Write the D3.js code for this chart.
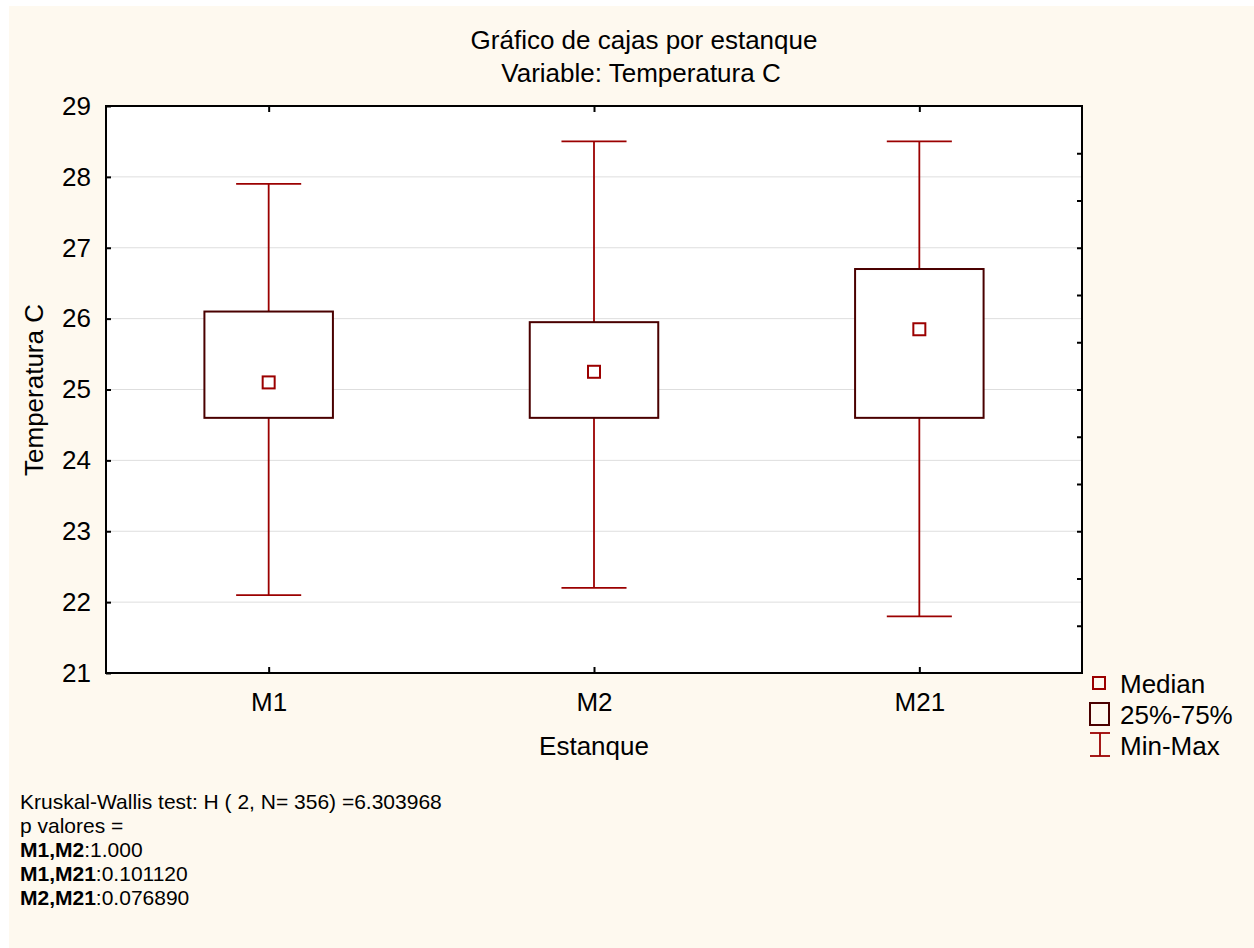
<!DOCTYPE html>
<html>
<head>
<meta charset="utf-8">
<script src="https://cdn.jsdelivr.net/npm/d3@7"></script>
<style>
  body { margin: 0; background: #ffffff; }
  svg { display: block; font-family: Arial, "Liberation Sans", sans-serif; }
</style>
</head>
<body>
<div id="chart"></div>
<script>
// canvas size
const FRAME_WIDTH = 1254;
const FRAME_HEIGHT = 948;
const MARGINS = {left: 106, right: 172, top: 106, bottom: 275};

const VIS_WIDTH = FRAME_WIDTH - MARGINS.left - MARGINS.right;
const VIS_HEIGHT = FRAME_HEIGHT - MARGINS.top - MARGINS.bottom;

const FONT = "Arial, 'Liberation Sans', sans-serif";
const BIG = 26;

// data
const categories = ["M1", "M2", "M21"];
const minValues = [22.1, 22.2, 21.8];
const q1Values = [24.6, 24.6, 24.6];
const medianValues = [25.1, 25.25, 25.85];
const q3Values = [26.1, 25.95, 26.7];
const maxValues = [27.9, 28.5, 28.5];
const yTicks = [21, 22, 23, 24, 25, 26, 27, 28, 29];
const legendLabels = ["Median", "25%-75%", "Min-Max"];
const noteLines = [
  [{t: "Kruskal-Wallis test: H ( 2, N= 356) =6.303968", b: false}],
  [{t: "p valores =", b: false}],
  [{t: "M1,M2", b: true}, {t: ":1.000", b: false}],
  [{t: "M1,M21", b: true}, {t: ":0.101120", b: false}],
  [{t: "M2,M21", b: true}, {t: ":0.076890", b: false}]
];

const boxes = categories.map((c, i) => ({
  cat: c, min: minValues[i], q1: q1Values[i], med: medianValues[i], q3: q3Values[i], max: maxValues[i]
}));

const WHISKER = "#9b0000";
const BOX = "#4a0000";

const svg = d3.select("#chart")
  .append("svg")
    .attr("width", FRAME_WIDTH)
    .attr("height", FRAME_HEIGHT);

// cream background
svg.append("rect")
  .attr("x", 9).attr("y", 6)
  .attr("width", FRAME_WIDTH - 9).attr("height", FRAME_HEIGHT - 6)
  .attr("fill", "#fef9ef");

// titles
svg.append("text")
  .attr("x", 644).attr("y", 49)
  .attr("text-anchor", "middle")
  .attr("font-size", BIG)
  .text("Gráfico de cajas por estanque");
svg.append("text")
  .attr("x", 641).attr("y", 82)
  .attr("text-anchor", "middle")
  .attr("font-size", BIG)
  .text("Variable: Temperatura C");

const g = svg.append("g")
  .attr("transform", `translate(${MARGINS.left},${MARGINS.top})`);

// plot area
g.append("rect")
  .attr("width", VIS_WIDTH).attr("height", VIS_HEIGHT)
  .attr("fill", "#ffffff");

const x = d3.scalePoint()
  .domain(categories)
  .range([0, VIS_WIDTH])
  .padding(0.5);

const y = d3.scaleLinear()
  .domain([21, 29])
  .range([VIS_HEIGHT, 0]);

const band = x.step();
const boxW = band * 0.395;
const capW = band * 0.2;

// gridlines
g.append("g")
  .selectAll("line")
  .data(yTicks.slice(1, -1))
  .enter()
  .append("line")
    .attr("x1", 0).attr("x2", VIS_WIDTH)
    .attr("y1", d => y(d)).attr("y2", d => y(d))
    .attr("stroke", "#dedede")
    .attr("stroke-width", 1);

// left axis
const yAxis = g.append("g")
  .call(d3.axisLeft(y).tickValues(yTicks).tickSize(5).tickPadding(10).tickFormat(d3.format("d")));
yAxis.select(".domain").remove();
yAxis.selectAll("line").attr("stroke", "#000").attr("stroke-width", 2).attr("transform", "translate(5,0)");
yAxis.selectAll("text").attr("font-size", BIG).attr("fill", "#000").attr("font-family", FONT);

// right axis, minor ticks
const rightTicks = d3.range(1, 12).map(i => 21 + i * 8 / 12);
g.append("g")
  .attr("transform", `translate(${VIS_WIDTH},0)`)
  .call(d3.axisLeft(y).tickValues(rightTicks).tickSize(5).tickFormat(""))
  .call(a => a.select(".domain").remove())
  .selectAll("line").attr("stroke", "#000").attr("stroke-width", 2);

// bottom axis
const xAxis = g.append("g")
  .attr("transform", `translate(0,${VIS_HEIGHT})`)
  .call(d3.axisTop(x).tickSize(6).tickFormat(""));
xAxis.select(".domain").remove();
xAxis.selectAll("line").attr("stroke", "#000").attr("stroke-width", 2);
g.append("g")
  .attr("transform", `translate(0,${VIS_HEIGHT})`)
  .call(d3.axisBottom(x).tickSize(0).tickPadding(20))
  .call(a => a.select(".domain").remove())
  .selectAll("text").attr("font-size", BIG).attr("fill", "#000").attr("font-family", FONT);

// top axis ticks
g.append("g")
  .call(d3.axisBottom(x).tickSize(6).tickFormat(""))
  .call(a => a.select(".domain").remove())
  .selectAll("line").attr("stroke", "#000").attr("stroke-width", 2);

// frame
g.append("rect")
  .attr("width", VIS_WIDTH).attr("height", VIS_HEIGHT)
  .attr("fill", "none")
  .attr("stroke", "#000")
  .attr("stroke-width", 2);

// whiskers
const bx = g.append("g")
  .selectAll("g")
  .data(boxes)
  .enter()
  .append("g")
    .attr("transform", d => `translate(${x(d.cat)},0)`);

bx.append("line")
  .attr("y1", d => y(d.max)).attr("y2", d => y(d.q3))
  .attr("stroke", WHISKER).attr("stroke-width", 1.8);
bx.append("line")
  .attr("y1", d => y(d.q1)).attr("y2", d => y(d.min))
  .attr("stroke", WHISKER).attr("stroke-width", 1.8);
bx.append("line")
  .attr("x1", -capW / 2).attr("x2", capW / 2)
  .attr("y1", d => y(d.max)).attr("y2", d => y(d.max))
  .attr("stroke", WHISKER).attr("stroke-width", 1.8);
bx.append("line")
  .attr("x1", -capW / 2).attr("x2", capW / 2)
  .attr("y1", d => y(d.min)).attr("y2", d => y(d.min))
  .attr("stroke", WHISKER).attr("stroke-width", 1.8);

// boxes
bx.append("rect")
  .attr("x", -boxW / 2)
  .attr("width", boxW)
  .attr("y", d => y(d.q3))
  .attr("height", d => y(d.q1) - y(d.q3))
  .attr("fill", "#ffffff")
  .attr("stroke", BOX)
  .attr("stroke-width", 2);

// median markers
bx.append("rect")
  .attr("x", -6).attr("width", 12)
  .attr("y", d => y(d.med) - 6).attr("height", 12)
  .attr("fill", "#ffffff")
  .attr("stroke", WHISKER)
  .attr("stroke-width", 2);

// axis titles
svg.append("text")
  .attr("x", MARGINS.left + VIS_WIDTH / 2).attr("y", 755)
  .attr("text-anchor", "middle")
  .attr("font-size", BIG)
  .text("Estanque");
svg.append("text")
  .attr("transform", "translate(43,390) rotate(-90)")
  .attr("text-anchor", "middle")
  .attr("font-size", BIG)
  .text("Temperatura C");

// legend
const leg = svg.append("g");
leg.append("rect")
  .attr("x", 1093).attr("y", 677).attr("width", 12).attr("height", 12)
  .attr("fill", "none").attr("stroke", WHISKER).attr("stroke-width", 2);
leg.append("rect")
  .attr("x", 1090).attr("y", 703).attr("width", 19).attr("height", 22)
  .attr("fill", "none").attr("stroke", BOX).attr("stroke-width", 2);
leg.append("line").attr("x1", 1090).attr("x2", 1110).attr("y1", 733).attr("y2", 733)
  .attr("stroke", WHISKER).attr("stroke-width", 1.8);
leg.append("line").attr("x1", 1090).attr("x2", 1110).attr("y1", 756).attr("y2", 756)
  .attr("stroke", WHISKER).attr("stroke-width", 1.8);
leg.append("line").attr("x1", 1100).attr("x2", 1100).attr("y1", 733).attr("y2", 756)
  .attr("stroke", WHISKER).attr("stroke-width", 1.8);
leg.selectAll("text.lab")
  .data(legendLabels)
  .enter()
  .append("text")
    .attr("class", "lab")
    .attr("x", 1120)
    .attr("y", (d, i) => 693 + i * 31)
    .attr("font-size", BIG)
    .text(d => d);

// test notes
const notes = svg.append("g");
noteLines.forEach((parts, i) => {
  const t = notes.append("text")
    .attr("x", 20)
    .attr("y", 809 + i * 24)
    .attr("font-size", 21);
  parts.forEach(p => {
    t.append("tspan")
      .attr("font-weight", p.b ? "bold" : "normal")
      .text(p.t);
  });
});
</script>
</body>
</html>
